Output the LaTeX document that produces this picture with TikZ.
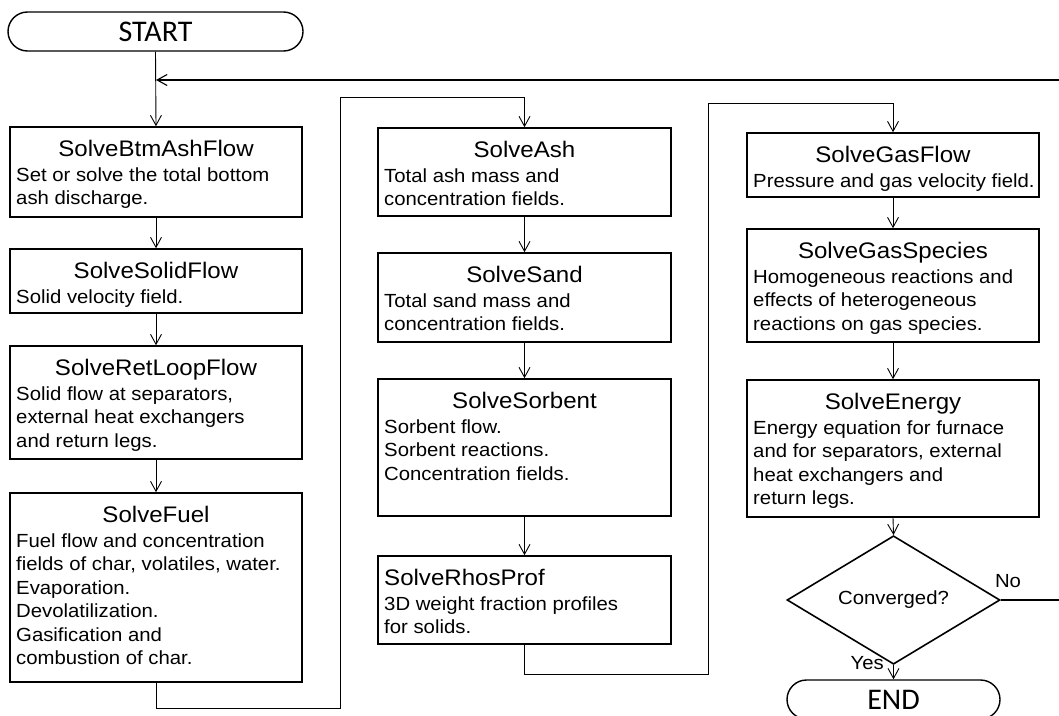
\documentclass[tikz,border=0pt]{standalone}
\usepackage{fontspec}
\setmainfont{Liberation Sans}
\newfontfamily\bodyf[FakeStretch=1.07]{Liberation Sans}
\newfontfamily\termf{Carlito}
\usetikzlibrary{arrows.meta,shapes.misc,shapes.geometric}
\tikzset{
  boxst/.style={draw, line width=1.6pt, rectangle, inner sep=0pt},
  titlest/.style={font=\bodyf\fontsize{22.5}{27}\selectfont, anchor=base, inner sep=0pt},
  bodyst/.style={font=\bodyf\fontsize{19}{23.5}\selectfont, align=left, anchor=north west, inner sep=0pt},
  termst/.style={draw, line width=1.4pt, rounded rectangle, inner sep=0pt, font=\termf\fontsize{30}{34}\selectfont},
  conn/.style={line width=0.9pt, -{Straight Barb[length=10pt,width=11pt]}},
  plain/.style={line width=0.9pt},
  lbl/.style={font=\bodyf\fontsize{19}{23}\selectfont, inner sep=0pt},
}
\newcommand\procbox[7]{%
  \node[boxst, minimum width={(#4-#2)*1pt}, minimum height={(#5-#3)*1pt}] (#1) at ({(#2+#4)/2},{(#3+#5)/2}) {};
  \node[titlest] (#1t) at ({(#2+#4)/2},{#3+29}) {#6};
  \node[bodyst] (#1b) at ({#2+6},{#3+39}) {\rule{0pt}{15pt}#7};
}
\begin{document}
\begin{tikzpicture}[x=1pt,y=-1pt]
\useasboundingbox (0,0) rectangle (1059,715);
\clip (0,0) rectangle (1059,715);

% terminals
\node[termst, minimum width=295pt, minimum height=39pt] (start) at (155.5,31.5) {START};
\node[termst, minimum width=213pt, minimum height=39pt] (end) at (893.5,699.5) {END};

% left column
\procbox{btm}{10}{127}{302}{217}{SolveBtmAshFlow}{Set or solve the total bottom\\ash discharge.}
\procbox{solid}{10}{249}{302}{313}{SolveSolidFlow}{Solid velocity field.}
\procbox{ret}{10}{346}{302}{459}{SolveRetLoopFlow}{Solid flow at  separators,\\external heat exchangers\\and return legs.}
\procbox{fuel}{10}{493}{302}{682}{SolveFuel}{Fuel flow and  concentration\\fields of char, volatiles, water.\\Evaporation.\\Devolatilization.\\Gasification and\\combustion of char.}

% middle column
\procbox{ash}{378}{128}{671}{216}{SolveAsh}{Total ash mass and\\concentration fields.}
\procbox{sand}{378}{253}{671}{342}{SolveSand}{Total sand mass and\\concentration fields.}
\procbox{sorb}{378}{379}{671}{516}{SolveSorbent}{Sorbent flow.\\Sorbent reactions.\\Concentration fields.}
\node[boxst, minimum width=293pt, minimum height=88pt] (rhos) at (524.5,600) {};
\node[titlest, anchor=base west] (rhost) at (384,585) {SolveRhosProf};
\node[bodyst] (rhosb) at (384,595) {\rule{0pt}{15pt}3D weight fraction profiles\\for solids.};

% right column
\procbox{gasf}{747}{133}{1039}{197}{SolveGasFlow}{Pressure and gas velocity field.}
\procbox{gass}{747}{229}{1039}{342}{SolveGasSpecies}{Homogeneous reactions and\\effects of heterogeneous\\reactions on gas species.}
\procbox{ener}{747}{380}{1039}{517}{SolveEnergy}{Energy equation for furnace\\and for separators, external\\heat exchangers and\\return legs.}

\node[draw, diamond, line width=1.6pt, inner sep=0pt, minimum width=213pt, minimum height=106pt, font=\bodyf\fontsize{19}{23}\selectfont] (conv) at (893.5,600) {Converged?};

% coordinates
\coordinate (join) at (156,80);
\coordinate (fr) at (1075,600);
\coordinate (fd) at (340,708);
\coordinate (fu) at (340,97);
\coordinate (rd) at (708,674);
\coordinate (ru) at (708,103);

% connectors
\draw[conn] (start.south) -- (btm.north);
\draw[conn] (btm.south) -- (solid.north);
\draw[conn] (solid.south) -- (ret.north);
\draw[conn] (ret.south) -- (fuel.north);
\draw[conn] (fuel.south) |- (fd) -- (fu) -| (ash.north);
\draw[conn] (ash.south) -- (sand.north);
\draw[conn] (sand.south) -- (sorb.north);
\draw[conn] (sorb.south) -- (rhos.north);
\draw[conn] (rhos.south) |- (rd) -- (ru) -| (gasf.north);
\draw[conn] (gasf.south) -- (gass.north);
\draw[conn] (gass.south) -- (ener.north);
\draw[conn] (ener.south) -- (conv.north);
\draw[conn] (conv.south) -- (end.north);
\draw[conn, line width=1.1pt] (conv.east) -- (fr) |- (join);

% labels
\node[lbl, anchor=base east] (yes) at (884,669) {Yes};
\node[lbl, anchor=base] (no) at (1008,587) {No};
\end{tikzpicture}
\end{document}
